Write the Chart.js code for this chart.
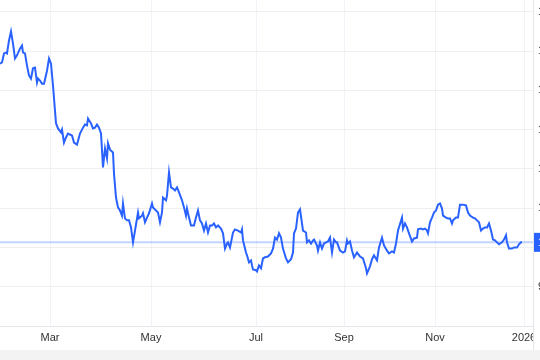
<!DOCTYPE html>
<html>
<head>
<meta charset="utf-8">
<script src="https://cdn.jsdelivr.net/npm/chart.js@4.4.1/dist/chart.umd.min.js"></script>
<style>
  html, body { margin: 0; padding: 0; width: 540px; height: 360px; overflow: hidden; background: #f3f3f3; }
  canvas { display: block; background: #ffffff; }
</style>
</head>
<body>
<canvas id="priceChart" width="580" height="350"></canvas>
<script>
// session number of each close (uneven)
const sessions = [
  0, 2, 4, 6, 7, 9, 11, 13, 15, 17, 20, 22, 23, 25, 27, 29, 31, 33, 35, 37, 38, 40, 42, 44, 47, 49,
  51, 53, 56, 58, 61, 62, 64, 66, 68, 72, 74, 77, 80, 83, 85, 87, 88, 91, 93, 95, 97, 99,
  101, 103, 105, 107, 108, 110, 113, 114, 116, 118, 120, 122, 123, 125, 127, 129, 131, 133, 135, 138, 139,
  142, 143, 145, 147, 149, 152, 153, 156, 158, 160, 162, 163, 166, 167, 169, 171, 173, 175, 177, 179,
  182, 184, 186, 187, 189, 191, 194, 196, 198, 200, 202, 204, 206, 208, 210, 212, 214, 216, 218,
  221, 223, 225, 227, 228, 230, 233, 235, 238, 241, 242, 243, 246, 247, 249, 251, 252, 253, 256, 257, 259,
  261, 263, 265, 268, 271, 273, 275, 277, 279, 281, 283, 286, 288, 291, 293, 294, 296, 298, 300,
  302, 303, 306, 307, 309, 311, 313, 314, 317, 318, 320, 322, 324, 326, 328, 330, 332, 334, 336, 337,
  340, 343, 345, 347, 348, 350, 352, 354, 357, 360, 363, 366, 367, 370, 372, 374, 377, 379,
  382, 384, 387, 389, 392, 394, 396, 398, 402, 403, 405, 407, 409, 412, 414, 417, 418,
  421, 423, 425, 427, 428, 430, 432, 434, 436, 438, 440, 442, 443, 446, 448, 450, 452, 453, 456, 458,
  460, 463, 466, 468, 470, 473, 475, 477, 479, 481, 483, 485, 487, 489, 491, 493, 495, 497, 499,
  502, 504, 506, 507, 509, 512, 514, 517, 519, 521, 522
];
const closes = [
  146.8, 147.1, 149.4, 149.6, 149.4, 152.7, 155.0, 151.9, 148.1, 148.9, 150.6, 151.4, 149.6, 149.4, 146.3, 143.8, 143.0, 145.6, 145.8, 142.0, 143.0, 142.5, 141.7, 141.7, 145.0, 148.1,
  146.8, 141.2, 131.6, 130.3, 129.3, 130.0, 126.7, 128.0, 129.0, 128.5, 126.7, 126.2, 129.0, 130.5, 131.3, 131.1, 132.8, 131.6, 130.3, 130.5, 131.3, 130.5,
  129.0, 120.4, 125.2, 122.7, 126.5, 124.9, 124.2, 118.8, 112.7, 110.2, 109.4, 108.1, 111.2, 107.4, 106.9, 106.9, 105.1, 101.3, 104.3, 108.9, 107.4,
  108.1, 108.7, 106.4, 107.6, 108.7, 111.2, 110.2, 109.4, 108.9, 106.4, 108.9, 112.7, 112.0, 113.2, 119.1, 115.3, 115.0, 114.5, 115.3, 114.0,
  112.0, 110.2, 108.1, 109.9, 107.6, 105.6, 105.6, 107.6, 109.4, 106.9, 106.1, 104.3, 106.1, 103.8, 105.6, 105.6, 106.1, 105.1, 105.6,
  104.8, 103.6, 99.7, 101.0, 101.3, 100.0, 103.8, 104.6, 104.3, 103.8, 104.6, 101.8, 98.7, 98.0, 96.2, 96.7, 95.4, 94.4, 94.2, 93.9, 95.4,
  94.7, 97.2, 97.5, 97.7, 98.5, 99.7, 102.5, 102.0, 103.6, 102.5, 99.7, 97.2, 96.2, 97.0, 98.7, 103.6, 104.8, 108.9, 109.7,
  106.1, 104.3, 103.8, 101.3, 101.8, 101.0, 101.8, 102.0, 100.5, 99.2, 101.3, 99.7, 101.0, 101.3, 101.5, 102.5, 98.7, 102.0, 101.3, 101.3,
  99.2, 98.7, 99.0, 101.8, 101.0, 101.5, 99.2, 97.5, 98.7, 97.7, 97.2, 94.7, 93.4, 95.2, 97.0, 98.0, 96.7, 100.0,
  102.5, 100.5, 99.2, 98.5, 99.0, 98.7, 101.0, 104.3, 107.6, 104.8, 106.1, 105.1, 103.6, 101.5, 102.3, 102.5, 104.6,
  104.8, 104.6, 104.8, 104.3, 103.6, 106.4, 107.6, 108.9, 109.4, 110.9, 111.2, 109.9, 108.1, 107.6, 107.4, 107.4, 106.1, 106.9, 107.6, 107.6,
  110.9, 110.9, 110.7, 108.9, 108.1, 107.6, 107.4, 106.9, 106.4, 104.3, 104.8, 105.1, 105.1, 106.1, 104.3, 102.0, 101.8, 101.3, 100.8,
  101.3, 102.0, 103.1, 101.3, 99.7, 99.7, 100.0, 100.0, 100.8, 101.3, 101.3
];
const monthStarts = [50, 151, 256, 344, 435, 524];
const monthLabels = ['Mar', 'May', 'Jul', 'Sep', 'Nov', '2026'];
const priceTicks = [90, 100, 110, 120, 130, 140, 150, 160];

const blue = '#2962ff';
const edgeGray = '#e3e5ea';

// last price: faint line across the plot and a tag on the axis
const lastPrice = {
  id: 'lastPrice',
  beforeDatasetsDraw(chart) {
    const { ctx, chartArea, scales } = chart;
    const y = scales.y.getPixelForValue(closes[closes.length - 1]);
    ctx.save();
    ctx.strokeStyle = 'rgba(41, 98, 255, 0.28)';
    ctx.lineWidth = 2;
    ctx.beginPath();
    ctx.moveTo(chartArea.left, y);
    ctx.lineTo(chartArea.right, y);
    ctx.stroke();
    ctx.restore();
  },
  afterDraw(chart) {
    const { ctx, chartArea, scales } = chart;
    const last = closes[closes.length - 1];
    const y = scales.y.getPixelForValue(last);
    ctx.save();
    // time labels stop at the price axis, whose edge runs to the bottom
    ctx.fillStyle = '#ffffff';
    ctx.fillRect(chartArea.right + 0.5, chartArea.bottom + 1, chart.width, chart.height);
    ctx.strokeStyle = edgeGray;
    ctx.lineWidth = 1;
    ctx.beginPath();
    ctx.moveTo(chartArea.right + 0.5, chartArea.bottom);
    ctx.lineTo(chartArea.right + 0.5, chart.height);
    ctx.stroke();

    ctx.fillStyle = blue;
    ctx.fillRect(chartArea.right + 1, y - 9.5, 46, 19);
    ctx.fillStyle = '#ffffff';
    ctx.font = '11px "Liberation Sans", Arial, sans-serif';
    ctx.textBaseline = 'middle';
    ctx.textAlign = 'left';
    ctx.fillText(last.toFixed(2), chartArea.right + 5, y + 0.5);
    ctx.restore();
  }
};

document.addEventListener('DOMContentLoaded', function() {
  const ctx = document.getElementById('priceChart').getContext('2d');

  new Chart(ctx, {
    type: 'line',
    data: {
      datasets: [{
        data: sessions.map((s, i) => ({ x: s, y: closes[i] })),
        borderColor: blue,
        borderWidth: 2,
        pointRadius: 0,
        tension: 0,
        fill: false
      }]
    },
    options: {
      responsive: false,
      animation: false,
      layout: { padding: 0 },
      plugins: {
        legend: { display: false },
        tooltip: { enabled: false }
      },
      scales: {
        x: {
          type: 'linear',
          min: 0,
          max: 533,
          grid: { color: '#f0f3f8', lineWidth: 1, drawTicks: false },
          border: { display: true, color: edgeGray },
          afterBuildTicks: scale => { scale.ticks = monthStarts.map(v => ({ value: v })); },
          afterFit: scale => { scale.height = 24; scale.paddingLeft = 0; scale.paddingRight = 0; },
          ticks: {
            autoSkip: false,
            maxRotation: 0,
            padding: 5,
            color: '#333333',
            font: { family: '"Liberation Sans", Arial, sans-serif', size: 11 },
            callback: value => monthLabels[monthStarts.indexOf(value)]
          }
        },
        y: {
          position: 'right',
          min: 80,
          max: 163,
          grid: { color: '#efefef', lineWidth: 1, drawTicks: false },
          border: { display: true, color: edgeGray },
          afterBuildTicks: scale => { scale.ticks = priceTicks.map(v => ({ value: v })); },
          afterFit: scale => { scale.width = 47; scale.paddingTop = 0; scale.paddingBottom = 0; },
          ticks: {
            padding: 5,
            color: '#333333',
            font: { family: '"Liberation Sans", Arial, sans-serif', size: 11 },
            callback: value => value.toFixed(2)
          }
        }
      }
    },
    plugins: [lastPrice]
  });
});
</script>
</body>
</html>
